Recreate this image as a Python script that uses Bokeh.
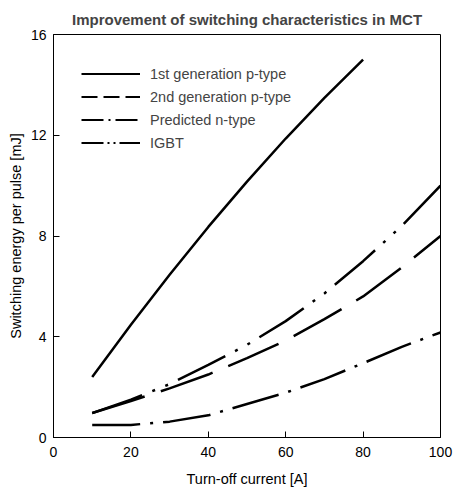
from bokeh.plotting import figure
from bokeh.models import Legend, LegendItem, Range1d, FixedTicker
from bokeh.embed import file_html
from bokeh.resources import INLINE

# Data
current_first = [10, 20, 30, 40, 50, 60, 70, 80]
first_gen_p = [2.4, 4.48, 6.46, 8.36, 10.16, 11.87, 13.48, 15.0]

current = [10, 20, 30, 40, 50, 60, 70, 80, 90, 100]
second_gen_p = [0.97, 1.45, 1.95, 2.5, 3.15, 3.85, 4.7, 5.6, 6.75, 8.0]
predicted_n = [0.5, 0.5, 0.63, 0.88, 1.33, 1.78, 2.32, 2.95, 3.6, 4.17]
igbt = [0.97, 1.5, 2.12, 2.88, 3.68, 4.62, 5.72, 7.0, 8.4, 10.0]

labels = ["1st generation p-type", "2nd generation p-type", "Predicted n-type", "IGBT"]
x_ticks = [0, 20, 40, 60, 80, 100]
y_ticks = [0, 4, 8, 12, 16]

FONT = "Liberation Sans"
NAN = float("nan")

p = figure(width=453, height=492, output_backend="svg", toolbar_location=None,
           x_range=Range1d(0, 100), y_range=Range1d(0, 16),
           min_border_left=53, min_border_right=13, min_border_top=34, min_border_bottom=55)

p.title.text = "Improvement of switching characteristics in MCT"
p.title.text_font = FONT
p.title.text_font_size = "15px"
p.title.text_font_style = "bold"
p.title.align = "center"
p.title.standoff = 13

p.grid.visible = False
p.outline_line_color = "black"
p.outline_line_width = 1
p.background_fill_color = "white"
p.border_fill_color = "white"

p.xaxis.ticker = FixedTicker(ticks=x_ticks)
p.yaxis.ticker = FixedTicker(ticks=y_ticks)
for ax in (p.xaxis, p.yaxis):
    ax.major_tick_in = 6
    ax.major_tick_out = 0
    ax.minor_tick_line_color = None
    ax.axis_line_color = "black"
    ax.major_tick_line_color = "black"
    ax.major_label_text_font = FONT
    ax.major_label_text_font_size = "14px"
    ax.major_label_text_color = "black"
    ax.axis_label_text_font = FONT
    ax.axis_label_text_font_size = "14.5px"
    ax.axis_label_text_font_style = "normal"
    ax.axis_label_text_color = "black"
p.xaxis.axis_label = "Turn-off current [A]"
p.yaxis.axis_label = "Switching energy per pulse [mJ]"
p.xaxis.major_label_standoff = 9
p.yaxis.major_label_standoff = 7
p.xaxis.axis_label_standoff = 11
p.yaxis.axis_label_standoff = 4

lw = 2.5
p.line(current_first, first_gen_p, line_color="black", line_width=lw)
p.line(current, second_gen_p, line_color="black", line_width=lw, line_dash="55 17")
p.line(current, predicted_n, line_color="black", line_width=lw, line_dash="48 10 3 10")
p.line(current, igbt, line_color="black", line_width=lw, line_dash="53 11 3 11 3 11")

# legend key samples (shorter dash patterns as in the reference key); NaN = nothing drawn in plot
r1 = p.line([NAN], [NAN], line_color="black", line_width=2)
r2 = p.line([NAN], [NAN], line_color="black", line_width=2, line_dash="16 6")
r3 = p.line([NAN], [NAN], line_color="black", line_width=2, line_dash="22 5 2 5")
r4 = p.line([NAN], [NAN], line_color="black", line_width=2, line_dash="22 4 2 4 2 4")

legend = Legend(items=[LegendItem(label=l, renderers=[r]) for l, r in zip(labels, [r1, r2, r3, r4])],
                location="top_left", padding=0, margin=28, spacing=0,
                glyph_width=59, glyph_height=23, label_height=23, label_standoff=10,
                label_text_font=FONT, label_text_font_size="14.5px",
                background_fill_alpha=0, border_line_alpha=0)
p.add_layout(legend, "center")

open("out.html", "w").write(file_html(p, INLINE))
